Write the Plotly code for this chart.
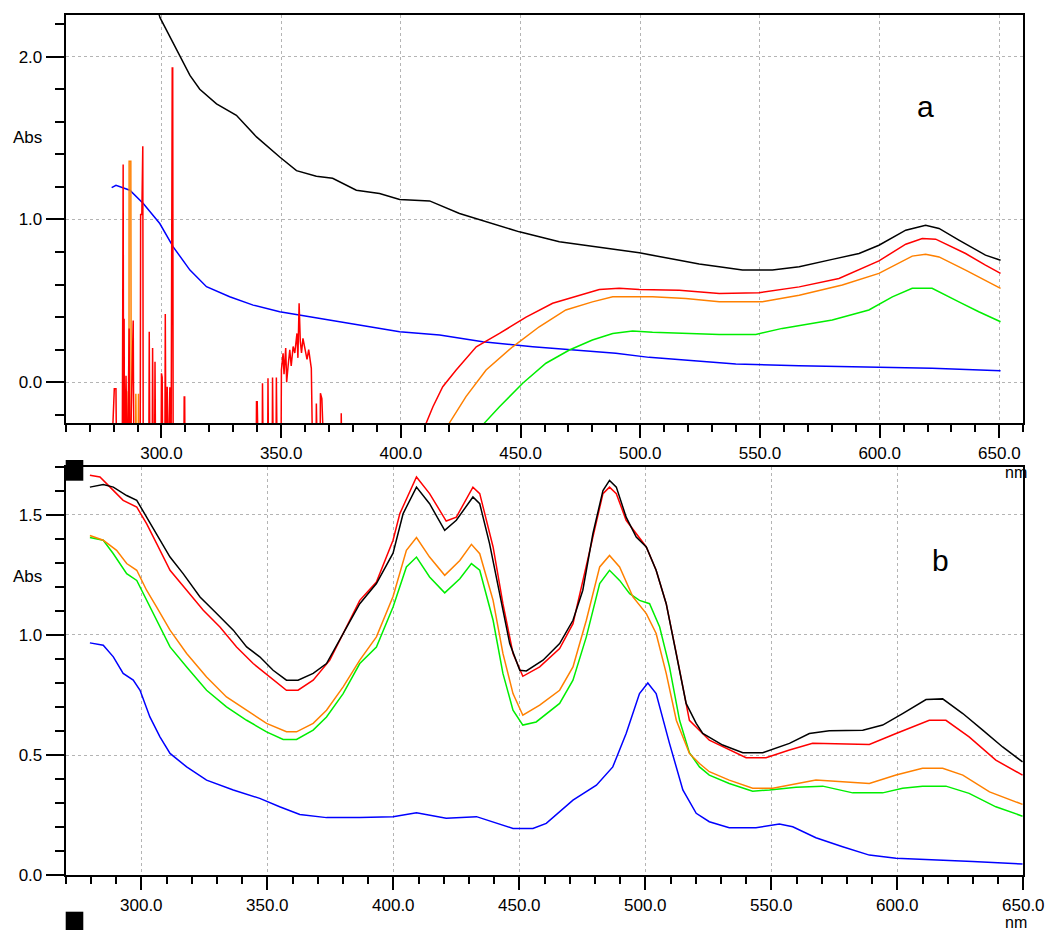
import plotly.graph_objects as go

# ---------------- Panel a (top) ----------------
a_black_x = [290, 295, 299.4, 304.9, 311.9, 316, 323, 331.3, 339.7, 349.4, 356.4, 364.7, 371.5, 381.4, 391.1,
             399.5, 412, 424.5, 435.6, 449.5, 466.2, 482.9, 499.6, 516.3, 524.6, 533, 537.1, 542.7, 555.2, 566.4,
             580.2, 591.4, 599.7, 610.9, 619.2, 624.8, 633.1, 644.2, 650.5]
a_black_y = [2.6, 2.45, 2.24, 2.08, 1.885, 1.80, 1.71, 1.64, 1.507, 1.384, 1.30, 1.266, 1.253, 1.18, 1.16,
             1.123, 1.114, 1.037, 0.985, 0.924, 0.863, 0.828, 0.795, 0.75, 0.726, 0.709, 0.699, 0.689, 0.689, 0.709,
             0.755, 0.791, 0.842, 0.934, 0.965, 0.945, 0.873, 0.781, 0.75]

a_red_x = [409.5, 410.6, 413.4, 417.5, 423.1, 431.5, 441.2, 452.3, 463.4, 474.5, 482.9, 491.2, 499.6, 516.3, 533,
           549.6, 566.4, 583, 599.7, 610.9, 617.8, 623.4, 635.9, 644.2, 650.5]
a_red_y = [-0.4, -0.25, -0.15, -0.027, 0.075, 0.218, 0.30, 0.40, 0.485, 0.535, 0.57, 0.578, 0.57, 0.566, 0.546,
           0.55, 0.586, 0.638, 0.746, 0.848, 0.883, 0.879, 0.791, 0.72, 0.669]

a_red_noise_x = [278.8, 280.3, 281.0, 281.3, 283.6, 283.8, 284.0, 284.2, 284.4, 284.6, 285.2, 285.8, 286.5, 286.8,
                 288.2, 288.5, 291.1, 291.3, 291.8, 292.0, 292.2, 292.4, 294.7, 294.9, 295.2, 296.1, 296.3, 296.6,
                 297.1, 297.3, 297.6, 299.8, 300.0, 300.3, 300.6, 301.4, 301.6, 301.9, 302.4, 303.0, 303.5, 304.0,
                 304.5, 304.7, 304.9, 309.3, 309.5, 309.7, 309.9,
                 339.5, 339.7, 340.0, 340.6, 342.0, 342.2, 342.6, 344.3, 344.5, 344.8, 346.2, 346.4, 346.8, 347.8,
                 348.0, 348.4, 349.9, 350.1, 350.8, 351.2, 351.9, 352.3, 352.9, 353.6, 354.2, 355.0, 355.7, 356.6,
                 357.0, 357.5, 358.0, 358.5, 359.1, 360.1, 360.8, 361.5, 362.6, 363.3, 364.5, 364.7, 365.3, 366.2,
                 366.4, 367.0, 368.2, 374.9, 375.1, 375.4]
a_red_noise_y = [-0.6, -0.04, -0.04, -0.6, -0.6, 1.337, 1.337, -0.6, 0.39, -0.6, 0.04, -0.6, 0.33, -0.6,
                 0.38, -0.6, -0.6, 1.03, 1.03, 1.45, 1.45, -0.6, -0.6, 0.31, -0.6, -0.6, 0.21, -0.6,
                 -0.6, 0.126, -0.6, -0.6, 0.055, 0.03, -0.6, -0.6, 0.42, -0.6, -0.027, -0.6, -0.03, -0.6,
                 1.93, 1.93, -0.6, -0.6, -0.09, -0.09, -0.6,
                 -0.6, -0.12, -0.12, -0.6, -0.6, -0.006, -0.6, -0.6, 0.025, -0.6, -0.6, 0.03, -0.6, -0.6,
                 0.03, -0.6, -0.6, 0.075, 0.178, 0.05, 0.21, 0.0, 0.1, 0.2, 0.1, 0.22, 0.18, 0.30,
                 0.15, 0.485, 0.25, 0.18, 0.27, 0.18, 0.14, 0.2, 0.086, -0.6, -0.6, -0.13, -0.6, -0.6,
                 -0.067, -0.1, -0.6, -0.6, -0.19, -0.6]

a_orange_x = [419.5, 420.3, 427.2, 435.6, 446.7, 457.8, 468.9, 480, 488.5, 505.1, 519, 533, 551, 566.4, 584.4,
              599.7, 613.6, 619.2, 624.8, 635.9, 650.5]
a_orange_y = [-0.4, -0.25, -0.088, 0.075, 0.218, 0.341, 0.444, 0.494, 0.525, 0.525, 0.515, 0.494, 0.494, 0.535,
              0.597, 0.669, 0.775, 0.787, 0.77, 0.689, 0.577]
a_orange_noise_x = [284.5, 284.7, 285.5, 285.7, 286.4, 286.5, 287.2, 287.4, 289.1, 289.3, 289.6, 290.2, 290.4, 290.7]
a_orange_noise_y = [-0.6, -0.06, -0.06, -0.6, -0.6, 1.357, 1.357, -0.6, -0.6, -0.07, -0.6, -0.6, -0.07, -0.6]

a_green_x = [433.5, 434.9, 441.2, 450.9, 460.6, 470.4, 480, 488.5, 496.8, 505.1, 533, 548.3, 559.3, 580.2, 595.5,
             605.3, 613.6, 621.9, 633.1, 641.4, 650.5]
a_green_y = [-0.4, -0.25, -0.15, -0.006, 0.117, 0.198, 0.26, 0.30, 0.315, 0.307, 0.294, 0.294, 0.331, 0.382, 0.444,
             0.525, 0.577, 0.577, 0.494, 0.433, 0.372]

a_blue_x = [279.2, 281, 286.8, 292.4, 299.3, 304.9, 311.9, 318.8, 328.5, 338.3, 349.4, 361.9, 382.8, 399.5, 416.2,
            434.2, 455.1, 471.8, 489.8, 503.7, 517.6, 531.6, 539.9, 566.4, 596.9, 621.9, 650.5]
a_blue_y = [1.196, 1.21, 1.18, 1.098, 0.975, 0.832, 0.689, 0.587, 0.525, 0.474, 0.433, 0.402, 0.352, 0.31, 0.29,
            0.249, 0.218, 0.198, 0.178, 0.153, 0.137, 0.12, 0.112, 0.102, 0.092, 0.086, 0.071]

# ---------------- Panel b (bottom) ----------------
b_black_x = [279.6, 284.9, 288.9, 294.2, 298.2, 302.1, 306.1, 311.4, 316.6, 323.3, 329.9, 336.5, 341.8, 347, 352.3,
             357.6, 362.2, 368.2, 373.5, 380.1, 386.7, 393.3, 399.9, 403.9, 409.2, 414.4, 420.4, 425, 431.6, 434.3,
             438.2, 442.2, 446.2, 450.2, 452.8, 459.4, 466, 471.3, 475.2, 479.2, 483.2, 485.8, 488.5, 492.4, 496.4,
             500.4, 504.3, 508.3, 512.3, 516.2, 520.2, 522.8, 530.7, 538.7, 546.6, 557.2, 565.1, 573, 586.3, 594.2,
             602.1, 611.4, 618, 626, 633.9, 641.8, 649.7]
b_black_y = [1.615, 1.626, 1.615, 1.58, 1.56, 1.49, 1.42, 1.324, 1.255, 1.158, 1.089, 1.02, 0.95, 0.909, 0.853,
             0.812, 0.812, 0.84, 0.881, 1.006, 1.13, 1.214, 1.34, 1.505, 1.615, 1.546, 1.435, 1.477, 1.574, 1.546,
             1.38, 1.172, 0.964, 0.853, 0.85, 0.895, 0.964, 1.061, 1.186, 1.421, 1.601, 1.643, 1.615, 1.49, 1.407,
             1.366, 1.269, 1.13, 0.923, 0.715, 0.632, 0.59, 0.542, 0.51, 0.51, 0.549, 0.59, 0.601, 0.604, 0.625,
             0.673, 0.731, 0.734, 0.673, 0.604, 0.534, 0.472]

b_red_x = [279.6, 283.6, 287.6, 292.8, 298.2, 302.1, 306.1, 311.4, 318, 324.6, 331.2, 337.8, 344.4, 351, 357.6,
           362.2, 368.2, 374.8, 380.1, 386.7, 393.3, 399.9, 402.6, 409.2, 414.4, 421, 425, 431.6, 434.3, 439.6,
           443.5, 447.5, 451.4, 458.1, 466, 471.3, 479.2, 483.2, 485.8, 488.5, 492.4, 500.4, 504.3, 508.3, 512.3,
           517.5, 525.4, 533.3, 540, 547.9, 557.2, 566.4, 588.9, 599.5, 612.7, 619.3, 628.5, 639.1, 649.7]
b_red_y = [1.664, 1.657, 1.615, 1.56, 1.532, 1.463, 1.38, 1.269, 1.186, 1.103, 1.033, 0.95, 0.881, 0.825, 0.77,
           0.77, 0.812, 0.895, 1.006, 1.144, 1.22, 1.394, 1.505, 1.657, 1.588, 1.474, 1.49, 1.615, 1.588, 1.366,
           1.13, 0.923, 0.828, 0.867, 0.943, 1.047, 1.407, 1.588, 1.615, 1.588, 1.477, 1.366, 1.269, 1.13, 0.923,
           0.645, 0.562, 0.521, 0.489, 0.489, 0.521, 0.549, 0.544, 0.59, 0.645, 0.645, 0.576, 0.479, 0.417]

b_orange_x = [279.6, 284.9, 290.2, 294.2, 298.2, 302.1, 306.1, 311.4, 318, 325.9, 333.8, 341.8, 349.7, 357.6, 361.6,
              368.2, 373.5, 380.1, 386.7, 393.3, 399.9, 405.2, 409.2, 414.4, 420.4, 426.4, 431, 434.3, 439.6, 443.5,
              447.5, 451.4, 458.1, 466, 471.3, 476.6, 481.9, 485.8, 489.8, 495.1, 500.4, 504.3, 508.3, 512.3, 517.5,
              521.5, 525.4, 533.3, 542.6, 550.6, 559.8, 567.7, 578.3, 588.9, 599.5, 610, 618, 626, 636.6, 649.7]
b_orange_y = [1.414, 1.394, 1.352, 1.297, 1.269, 1.186, 1.116, 1.02, 0.923, 0.825, 0.742, 0.687, 0.632, 0.597, 0.597,
              0.632, 0.687, 0.784, 0.895, 0.992, 1.16, 1.352, 1.405, 1.324, 1.248, 1.31, 1.377, 1.338, 1.144, 0.923,
              0.756, 0.666, 0.708, 0.77, 0.867, 1.061, 1.283, 1.331, 1.283, 1.158, 1.089, 1.006, 0.84, 0.645, 0.507,
              0.465, 0.431, 0.396, 0.362, 0.362, 0.382, 0.396, 0.389, 0.382, 0.417, 0.445, 0.445, 0.417, 0.347, 0.295]

b_green_x = [279.6, 284.9, 288.9, 294.2, 298.2, 302.1, 306.1, 311.4, 318, 325.9, 333.8, 341.8, 349.7, 356.3, 361.6,
             368.2, 373.5, 380.1, 386.7, 393.3, 399.9, 405.2, 409.2, 414.4, 420.4, 426.4, 431, 434.3, 439.6, 443.5,
             447.5, 451.4, 456.7, 466, 471.3, 476.6, 481.9, 485.8, 489.8, 493.8, 497.7, 501.7, 505.7, 509.6, 513.6,
             517.5, 521.5, 525.4, 533.3, 542.6, 549.3, 559.8, 570.4, 582.3, 594.2, 602.1, 610, 619.3, 628.5, 639.1,
             649.7]
b_green_y = [1.405, 1.394, 1.338, 1.255, 1.227, 1.144, 1.061, 0.95, 0.867, 0.77, 0.701, 0.645, 0.597, 0.565, 0.565,
             0.604, 0.659, 0.756, 0.881, 0.95, 1.116, 1.283, 1.324, 1.241, 1.175, 1.234, 1.297, 1.269, 1.061, 0.84,
             0.687, 0.625, 0.638, 0.715, 0.812, 0.992, 1.214, 1.269, 1.227, 1.172, 1.144, 1.13, 1.033, 0.867, 0.645,
             0.51, 0.451, 0.417, 0.382, 0.35, 0.355, 0.366, 0.371, 0.343, 0.343, 0.362, 0.371, 0.371, 0.341, 0.285,
             0.246]

b_blue_x = [279.6, 284.9, 288.9, 292.8, 296.8, 299.5, 303.4, 307.4, 311.4, 318, 325.9, 336.5, 347, 354.9, 362.9,
            373.5, 386.7, 399.9, 409.2, 421, 433, 447.5, 455.4, 460.7, 471.3, 480.6, 487.1, 492.4, 497.7, 501,
            504.3, 509.6, 514.9, 520.2, 525.4, 533.3, 543.9, 553.2, 558.5, 567.7, 578.3, 588.9, 599.5, 612.7, 629.9,
            649.7]
b_blue_y = [0.967, 0.957, 0.909, 0.84, 0.812, 0.77, 0.659, 0.576, 0.507, 0.451, 0.396, 0.355, 0.32, 0.285, 0.253,
            0.24, 0.24, 0.244, 0.26, 0.237, 0.244, 0.195, 0.195, 0.216, 0.313, 0.375, 0.451, 0.59, 0.756, 0.8,
            0.756, 0.549, 0.355, 0.258, 0.223, 0.198, 0.198, 0.213, 0.202, 0.156, 0.119, 0.084, 0.071, 0.066, 0.057,
            0.047]

x_tick_labels_a = ["300.0", "350.0", "400.0", "450.0", "500.0", "550.0", "600.0", "650.0"]
x_tick_vals_a = [300, 350, 400, 450, 500, 550, 600, 650]
y_tick_vals_a = [0.0, 1.0, 2.0]
y_tick_vals_b = [0.0, 0.5, 1.0, 1.5]

BLACK, RED, ORANGE, GREEN, BLUE = "#000000", "#ff0000", "#ff8000", "#00ee00", "#0000ff"
LW = 1.5
FONT = "Liberation Sans, Arial, sans-serif"

fig = go.Figure()

def add(x, y, color, xa, ya):
    fig.add_trace(go.Scatter(x=x, y=y, mode="lines", line=dict(color=color, width=LW),
                             xaxis=xa, yaxis=ya, showlegend=False, hoverinfo="skip"))

# top panel
add(a_blue_x, a_blue_y, BLUE, "x", "y")
add(a_green_x, a_green_y, GREEN, "x", "y")
add(a_orange_x, a_orange_y, ORANGE, "x", "y")
add(a_orange_noise_x, a_orange_noise_y, ORANGE, "x", "y")
add(a_red_x, a_red_y, RED, "x", "y")
add(a_red_noise_x, a_red_noise_y, RED, "x", "y")
add(a_black_x, a_black_y, BLACK, "x", "y")
# bottom panel
add(b_blue_x, b_blue_y, BLUE, "x2", "y2")
add(b_green_x, b_green_y, GREEN, "x2", "y2")
add(b_orange_x, b_orange_y, ORANGE, "x2", "y2")
add(b_red_x, b_red_y, RED, "x2", "y2")
add(b_black_x, b_black_y, BLACK, "x2", "y2")

W, H = 1052, 930
def px(x):
    return x / W
def py(y):
    return (H - y) / H

L, R = 65.7, 1023.3
common = dict(showline=True, mirror=True, linecolor="black", linewidth=2, zeroline=False,
              ticks="outside", tickwidth=2, tickcolor="black", automargin=False,
              showgrid=True, gridcolor="#b4b4b4", griddash="dot", gridwidth=1,
              tickfont=dict(family=FONT, size=17, color="black"))

fig.update_layout(
    width=W, height=H, margin=dict(l=0, r=0, t=0, b=0, autoexpand=False),
    paper_bgcolor="white", plot_bgcolor="white",
    xaxis=dict(domain=[px(L), px(R)], range=[260, 660], anchor="y",
               tickvals=x_tick_vals_a, ticktext=x_tick_labels_a, ticklen=13,
               minor=dict(dtick=10, tick0=0, ticklen=7, tickwidth=2, tickcolor="black", ticks="outside", showgrid=False),
               **common),
    yaxis=dict(domain=[py(423.3), py(15)], range=[-0.252, 2.256], anchor="x",
               tickvals=y_tick_vals_a, tickformat=".1f", ticklen=18,
               minor=dict(dtick=0.2, tick0=0, ticklen=9, tickwidth=2, tickcolor="black", ticks="outside", showgrid=False),
               **common),
    xaxis2=dict(domain=[px(L), px(R)], range=[270, 650], anchor="y2",
                tickvals=x_tick_vals_a, ticktext=x_tick_labels_a, ticklen=13,
                minor=dict(dtick=10, tick0=0, ticklen=7, tickwidth=2, tickcolor="black", ticks="outside", showgrid=False),
                **common),
    yaxis2=dict(domain=[py(875.3), py(466.7)], range=[0, 1.70], anchor="x2",
                tickvals=y_tick_vals_b, tickformat=".1f", ticklen=18,
                minor=dict(dtick=0.1, tick0=0, ticklen=9, tickwidth=2, tickcolor="black", ticks="outside", showgrid=False),
                **common),
)

annos = [
    dict(text="Abs", x=px(27), y=py(137), size=17),
    dict(text="Abs", x=px(27), y=py(576), size=17),
    dict(text="nm", x=px(1016), y=py(473), size=16),
    dict(text="nm", x=px(1016), y=py(922), size=16),
    dict(text="a", x=px(925), y=py(106), size=30),
    dict(text="b", x=px(940), y=py(560), size=30),
]
for a in annos:
    fig.add_annotation(text=a["text"], x=a["x"], y=a["y"], xref="paper", yref="paper",
                       xanchor="center", yanchor="middle", showarrow=False,
                       font=dict(family=FONT, size=a["size"], color="black"))

for (y0, y1) in [(460, 480.7), (911.7, 932)]:
    fig.add_shape(type="rect", xref="paper", yref="paper", x0=px(65.7), x1=px(83.3),
                  y0=py(y1), y1=py(y0), fillcolor="black", line=dict(width=0), layer="above")

fig.write_html("out.html")
